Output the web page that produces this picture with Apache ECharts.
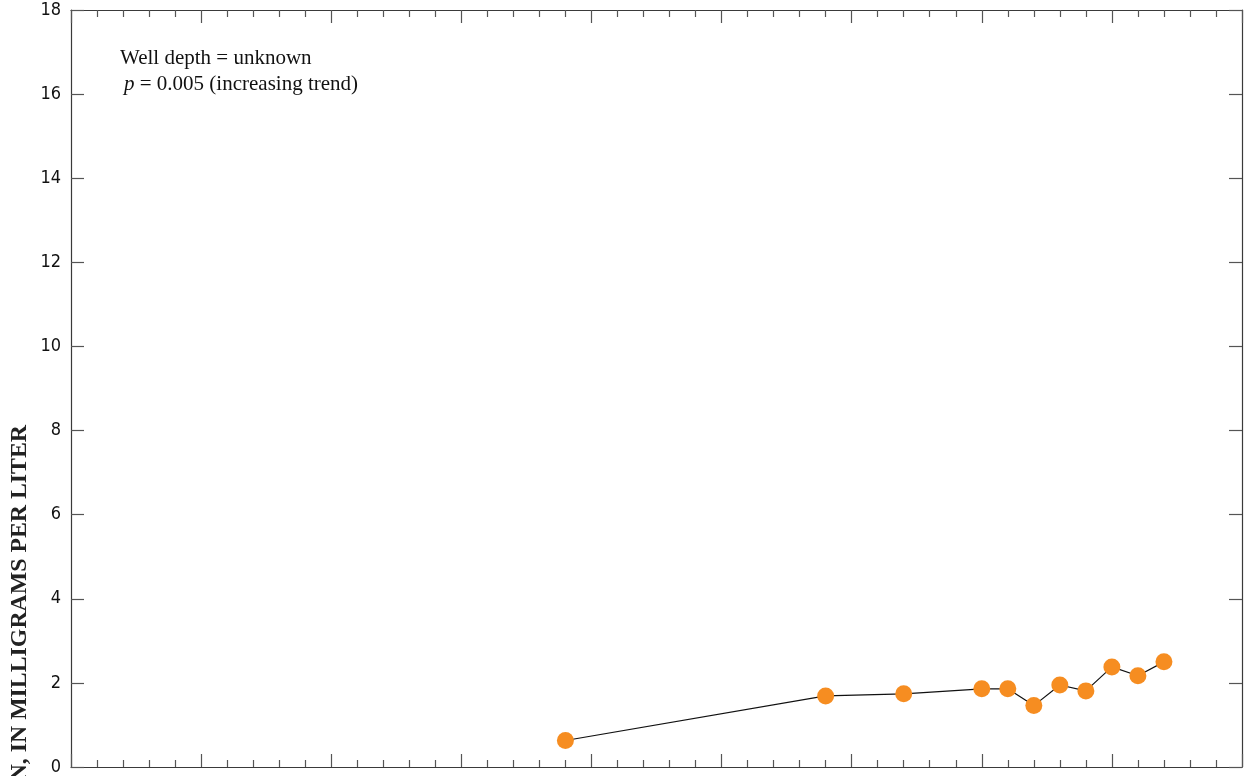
<!DOCTYPE html>
<html>
<head>
<meta charset="utf-8">
<script src="https://cdn.jsdelivr.net/npm/echarts@6/dist/echarts.min.js"></script>
<style>html,body{margin:0;padding:0;background:#fff;overflow:hidden}#c{width:1248px;height:776px}</style>
</head>
<body>
<div id="c"></div>
<script>
// Sample years and nitrate concentrations (mg/L)
const years = [1984, 1994, 1997, 2000, 2001, 2002, 2003, 2004, 2005, 2006, 2007];
const values = [0.63, 1.69, 1.74, 1.86, 1.86, 1.46, 1.95, 1.81, 2.38, 2.17, 2.50];
const yTicks = [0, 2, 4, 6, 8, 10, 12, 14, 16, 18];
const xRange = [1965, 2010];
const yLabel = 'NITRATE, AS NITROGEN, IN MILLIGRAMS PER LITER';
const note1 = 'Well depth = unknown';
const note2 = '{i|p} = 0.005 (increasing trend)';

const chart = echarts.init(document.getElementById('c'), null, {renderer: 'canvas'});
const frame = '#3a3a3a';
const tickCol = '#555';
const baseX = {
  type: 'value', min: xRange[0], max: xRange[1], interval: 5,
  axisLine: {show: true, onZero: false, lineStyle: {color: frame, width: 1.2}},
  axisTick: {show: true, inside: true, length: 13, lineStyle: {color: tickCol, width: 1.2}},
  minorTick: {show: true, splitNumber: 5, length: 7, lineStyle: {color: tickCol, width: 1.2}},
  axisLabel: {show: false}, splitLine: {show: false}, minorSplitLine: {show: false}
};
const baseY = {
  type: 'value', min: yTicks[0], max: yTicks[yTicks.length - 1], interval: 2,
  axisLine: {show: true, onZero: false, lineStyle: {color: frame, width: 1.2}},
  axisTick: {show: true, inside: true, length: 13, lineStyle: {color: tickCol, width: 1.2}},
  splitLine: {show: false}
};
chart.setOption({
  animation: false,
  backgroundColor: '#fff',
  grid: {left: 71, right: 6, top: 10, bottom: 6, containLabel: false},
  xAxis: [
    Object.assign({}, baseX, {position: 'bottom'}),
    Object.assign({}, baseX, {position: 'top'})
  ],
  yAxis: [
    Object.assign({}, baseY, {position: 'left',
      axisLabel: {show: true, margin: 10, color: '#111', fontSize: 18,
        fontFamily: '"Liberation Sans Narrow","DejaVu Sans Condensed",sans-serif'}}),
    Object.assign({}, baseY, {position: 'right', axisLabel: {show: false}})
  ],
  graphic: [
    {type: 'text', x: 20, y: 425, rotation: Math.PI / 2,
      style: {text: yLabel, textAlign: 'right', textVerticalAlign: 'middle',
        font: 'bold 23.8px "Liberation Serif", "DejaVu Serif", serif', fill: '#222'}},
    {type: 'text', x: 120, y: 58,
      style: {text: note1, textAlign: 'left', textVerticalAlign: 'middle',
        font: '21px "Liberation Serif", serif', fill: '#111'}},
    {type: 'text', x: 124, y: 84,
      style: {text: note2, textAlign: 'left', textVerticalAlign: 'middle',
        font: '21px "Liberation Serif", serif', fill: '#111',
        rich: {i: {font: 'italic 21px "Liberation Serif", serif', fill: '#111'}}}}
  ],
  series: [{
    type: 'line', xAxisIndex: 0, yAxisIndex: 0,
    data: years.map((y, i) => [y, values[i]]),
    symbol: 'circle', symbolSize: 17,
    lineStyle: {color: '#111', width: 1.2},
    itemStyle: {color: '#F68D21', borderWidth: 0},
    z: 3
  }]
});
</script>
</body>
</html>
